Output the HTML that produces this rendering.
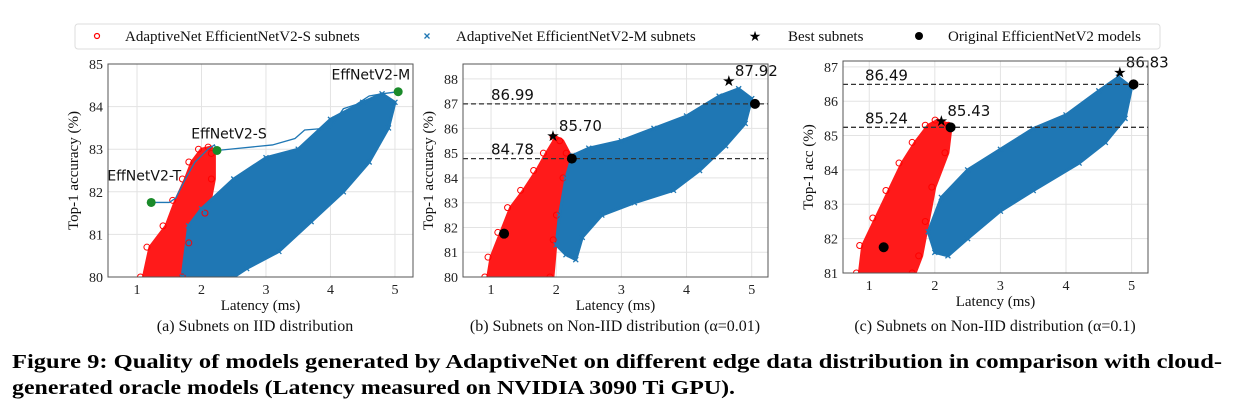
<!DOCTYPE html>
<html><head><meta charset="utf-8"><style>
body{margin:0;background:#fff;width:1237px;height:415px;overflow:hidden;position:relative;font-family:"Liberation Serif",serif}
svg{position:absolute;left:0;top:0}
</style></head><body>
<svg id="chart" width="1237" height="415"></svg>
<script>
// ---- data ----
const xTicks=[1,2,3,4,5];
const yTicksA=[80,81,82,83,84,85];
const yTicksB=[80,81,82,83,84,85,86,87,88];
const yTicksC=[81,82,83,84,85,86,87];
const redCloudA=[[1.1,80],[1.2,80.7],[1.45,81.2],[1.6,81.8],[1.75,82.3],[1.85,82.7],[2.0,83.0],[2.15,83.05],[2.2,82.9],[2.2,82.3],[2.1,81.5],[1.85,80.8],[1.75,80]];
const blueCloudA=[[1.7,80],[1.8,81.2],[2.0,81.6],[2.5,82.3],[3.0,82.8],[3.5,83.0],[4.0,83.7],[4.5,84.1],[4.8,84.3],[5.0,84.1],[4.9,83.5],[4.6,82.7],[4.2,82.0],[3.7,81.3],[3.2,80.6],[2.7,80.2],[2.5,80]];
const paretoA=[[1.22,81.75],[1.5,81.75],[1.6,81.85],[1.75,82.3],[1.9,82.7],[2.1,83.0],[2.2,83.1],[2.24,82.97],[3.1,83.1],[3.45,83.25],[3.6,83.45],[4.0,83.5],[4.2,83.95],[4.4,84.05],[4.6,84.25],[4.8,84.3],[5.05,84.35]];
const origA=[[1.22,81.75],[2.24,82.97],[5.05,84.35]];
const origLabelsA=["EffNetV2-T","EffNetV2-S","EffNetV2-M"];
const redCloudB=[[0.95,80],[1.0,80.8],[1.15,81.8],[1.3,82.8],[1.5,83.5],[1.7,84.3],[1.85,85.0],[2.0,85.65],[2.1,85.5],[2.2,85.0],[2.15,84.0],[2.05,82.5],[2.0,81.5],[1.95,80]];
const blueCloudB=[[2.0,81.3],[2.05,82.5],[2.15,84.0],[2.25,84.9],[2.5,85.2],[3.0,85.5],[3.5,86.0],[4.0,86.5],[4.5,87.3],[4.8,87.6],[5.0,87.2],[4.9,86.2],[4.6,85.3],[4.2,84.3],[3.8,83.5],[3.2,83.0],[2.7,82.5],[2.4,81.6],[2.3,80.7],[2.15,80.9]];
const bestB=[[1.95,85.70],[4.65,87.92]];
const origB=[[1.2,81.75],[2.24,84.78],[5.05,86.99]];
const hlinesB=[86.99,84.78];
const redCloudC=[[0.85,81],[0.9,81.8],[1.1,82.6],[1.3,83.4],[1.5,84.2],[1.7,84.8],[1.9,85.3],[2.05,85.45],[2.25,85.3],[2.2,84.5],[2.0,83.5],[1.9,82.5],[1.8,81.5],[1.7,81]];
const blueCloudC=[[1.9,82.2],[2.1,83.2],[2.5,84.0],[3.0,84.6],[3.5,85.2],[4.0,85.6],[4.5,86.3],[4.8,86.7],[5.0,86.4],[4.9,85.5],[4.6,84.8],[4.2,84.2],[3.5,83.4],[3.0,82.8],[2.5,82.0],[2.2,81.5],[2.0,81.6]];
const bestC=[[2.1,85.43],[4.82,86.83]];
const origC=[[1.22,81.75],[2.24,85.24],[5.03,86.49]];
const hlinesC=[86.49,85.24];

const NS="http://www.w3.org/2000/svg";
const svg=document.getElementById('chart');
function mk(tag,attrs,parent,text){const e=document.createElementNS(NS,tag);for(const k in attrs)e.setAttribute(k,attrs[k]);if(text!==undefined)e.textContent=text;(parent||svg).appendChild(e);return e;}

function panel(p){
  const g=mk('g',{});
  
  
  const sx=v=>p.L+(v-p.x0)/(p.x1-p.x0)*(p.R-p.L);
  const sy=v=>p.B-(v-p.y0)/(p.y1-p.y0)*(p.B-p.T);
  const clip='clip'+p.id;
  const cp=mk('clipPath',{id:clip},g);mk('rect',{x:p.L,y:p.T,width:p.R-p.L,height:p.B-p.T},cp);
  xTicks.forEach(t=>{const x=sx(t);
    mk('line',{x1:x,x2:x,y1:p.T,y2:p.B,stroke:'#e3e3e3','stroke-width':1},g);
    const tl=mk('text',{x:x,y:p.B+17,'text-anchor':'middle','font-size':14,fill:'#222'},g,t);
    
    });
  p.yt.forEach(t=>{const y=sy(t);
    mk('line',{x1:p.L,x2:p.R,y1:y,y2:y,stroke:'#e3e3e3','stroke-width':1},g);
    const tl=mk('text',{x:p.L-5,y:y+5,'text-anchor':'end','font-size':14,fill:'#222'},g,t);
    
    });
  const pg=mk('g',{'clip-path':`url(#${clip})`},g);
  const poly=(arr,col,nm)=>{const e=mk('polygon',{points:arr.map(d=>sx(d[0])+','+sy(d[1])).join(' '),fill:col,stroke:col,'stroke-width':3,'stroke-linejoin':'round'},pg);
    
    };
  poly(p.red,'#ff1a1a','red-subnet-cloud');
  poly(p.blue,'#1f77b4','blue-subnet-cloud');
  p.red.forEach(d=>{const c=mk('circle',{cx:sx(d[0])-3,cy:sy(d[1]),r:3,fill:'none',stroke:'#ff0000','stroke-width':1},pg);
    
    });
  p.blue.forEach(d=>{const x=sx(d[0]),y=sy(d[1]);const m=mk('path',{d:`M${x-2.5},${y-2.5}L${x+2.5},${y+2.5}M${x-2.5},${y+2.5}L${x+2.5},${y-2.5}`,stroke:'#1f77b4','stroke-width':1.3},pg);
    
    });
  if(p.hl)p.hl.forEach(v=>{const y=sy(v);
    const l=mk('line',{x1:p.L,x2:p.R,y1:y,y2:y,stroke:'#333','stroke-width':1.3,'stroke-dasharray':'5,3'},g);
    
    
    const t=mk('text',{x:p.L+(p.id=='b'?28:22),y:y-4,'font-size':15,'font-family':'DejaVu Sans,sans-serif',fill:'#111'},g,v.toFixed(2));
    
    });
  if(p.pareto){const l=mk('polyline',{points:p.pareto.map(d=>sx(d[0])+','+sy(d[1])).join(' '),fill:'none',stroke:'#1f77b4','stroke-width':1.3},g);
    
    
    p.orig.forEach((d,i)=>{const c=mk('circle',{cx:sx(d[0]),cy:sy(d[1]),r:4.5,fill:'#1a8a2a'},g);
      
      
      const tx=i==0?sx(d[0])+30:(i==1?sx(d[0])+12:sx(d[0])+12);
      const ty=i==0?sy(d[1])-22:(i==1?sy(d[1])-12:sy(d[1])-12);
      const t=mk('text',{x:tx,y:ty,'text-anchor':i==1?'middle':'end','font-size':14,'font-family':'DejaVu Sans,sans-serif',fill:'#111'},g,origLabelsA[i]);
      
      });
  } else {
    p.orig.forEach(d=>{const c=mk('circle',{cx:sx(d[0]),cy:sy(d[1]),r:5,fill:'#000'},g);
      
      });
    p.best.forEach(d=>{const t=mk('text',{x:sx(d[0]),y:sy(d[1])+5,'text-anchor':'middle','font-size':15,'font-family':'DejaVu Sans,sans-serif',fill:'#000'},g,'★');
      
      
      const v=mk('text',{x:sx(d[0])+6,y:sy(d[1])-5,'font-size':15,'font-family':'DejaVu Sans,sans-serif',fill:'#111'},g,d[1].toFixed(2));
      
      });
  }
  mk('rect',{x:p.L,y:p.T,width:p.R-p.L,height:p.B-p.T,fill:'none',stroke:'#555','stroke-width':1},g);
  const xl=mk('text',{x:(p.L+p.R)/2,y:p.B+33,'text-anchor':'middle','font-size':15,fill:'#111'},g,'Latency (ms)');
  
  
  const yl=mk('text',{x:0,y:0,transform:`translate(${p.L-30},${(p.T+p.B)/2}) rotate(-90)`,'text-anchor':'middle','font-size':15,fill:'#111'},g,p.ylab);
  
  
  const sc=mk('text',{x:p.capx,y:331,'text-anchor':'middle','font-size':16,fill:'#111'},g,p.cap);
  
  
}

panel({id:'a',name:'panel-iid',L:108,R:413,T:64,B:277,x0:0.55,x1:5.28,y0:80,y1:85,yt:yTicksA,red:redCloudA,blue:blueCloudA,pareto:paretoA,orig:origA,ylab:'Top-1 accuracy (%)',cap:'(a) Subnets on IID distribution',capx:255});
panel({id:'b',name:'panel-noniid-001',L:463,R:768,T:64,B:277,x0:0.57,x1:5.25,y0:80,y1:88.6,yt:yTicksB,red:redCloudB,blue:blueCloudB,best:bestB,orig:origB,hl:hlinesB,ylab:'Top-1 accuracy (%)',cap:'(b) Subnets on Non-IID distribution (α=0.01)',capx:615});
panel({id:'c',name:'panel-noniid-01',L:843,R:1148,T:61,B:273,x0:0.6,x1:5.25,y0:81,y1:87.17,yt:yTicksC,red:redCloudC,blue:blueCloudC,best:bestC,orig:origC,hl:hlinesC,ylab:'Top-1 acc (%)',cap:'(c) Subnets on Non-IID distribution (α=0.1)',capx:995});

const lg=mk('g',{});


mk('rect',{x:75,y:24,width:1085,height:25,rx:3,fill:'#fff',stroke:'#ddd'},lg);
const items=[['AdaptiveNet EfficientNetV2-S subnets',97,125,'o'],['AdaptiveNet EfficientNetV2-M subnets',427,456,'x'],['Best subnets',755,788,'s'],['Original EfficientNetV2 models',919,948,'d']];
items.forEach(it=>{const e=mk('g',{},lg);
  
  
  if(it[3]=='o')mk('circle',{cx:it[1],cy:36,r:2.5,fill:'none',stroke:'#f00','stroke-width':1.2},e);
  if(it[3]=='x')mk('path',{d:`M${it[1]-2.5},33.5L${it[1]+2.5},38.5M${it[1]-2.5},38.5L${it[1]+2.5},33.5`,stroke:'#1f77b4','stroke-width':1.3},e);
  if(it[3]=='s')mk('text',{x:it[1],y:41,'text-anchor':'middle','font-size':14,'font-family':'DejaVu Sans,sans-serif'},e,'★');
  if(it[3]=='d')mk('circle',{cx:it[1],cy:36,r:4,fill:'#000'},e);
  mk('text',{x:it[2],y:41,'font-size':15,fill:'#111'},e,it[0]);});

const c1=mk('text',{x:12,y:368,'font-size':20,'font-weight':'bold',fill:'#000',textLength:1210,lengthAdjust:'spacingAndGlyphs'},svg,'Figure 9: Quality of models generated by AdaptiveNet on different edge data distribution in comparison with cloud-');


const c2=mk('text',{x:12,y:394,'font-size':20,'font-weight':'bold',fill:'#000',textLength:723,lengthAdjust:'spacingAndGlyphs'},svg,'generated oracle models (Latency measured on NVIDIA 3090 Ti GPU).');


</script>
</body></html>
